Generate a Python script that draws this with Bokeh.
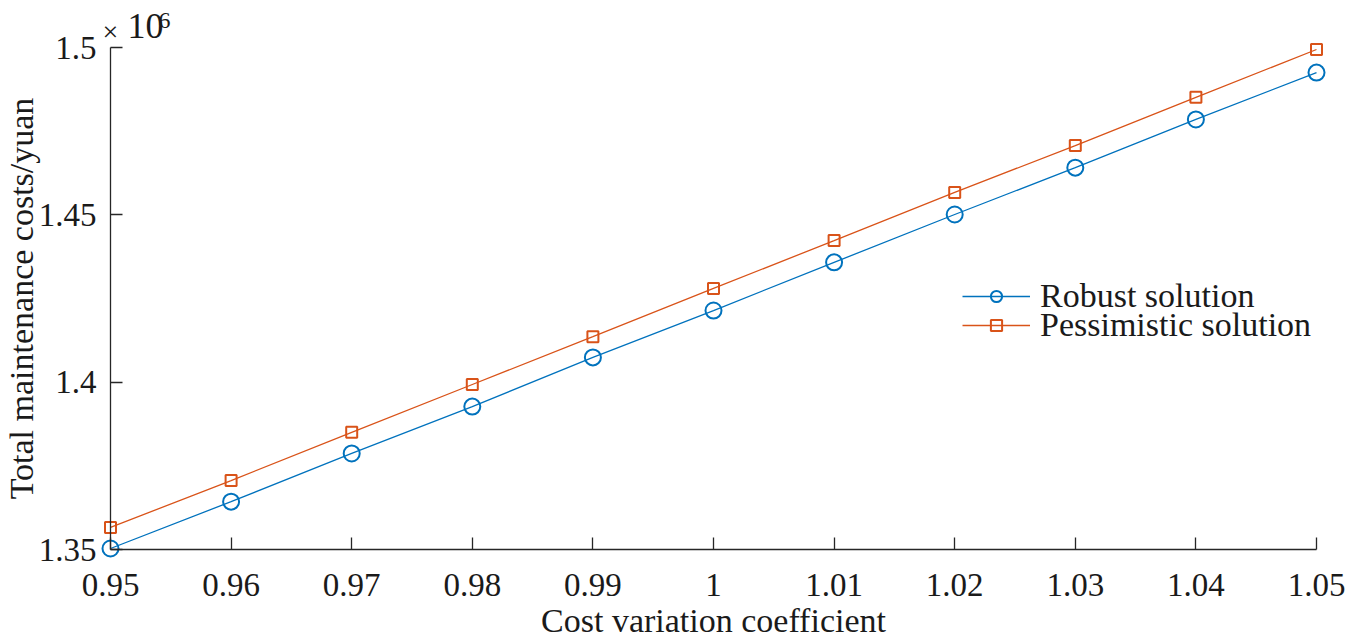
from bokeh.plotting import figure
from bokeh.models import FixedTicker, Legend, LegendItem, Label, Range1d
from bokeh.embed import file_html
from bokeh.resources import INLINE

coef = [0.95, 0.96, 0.97, 0.98, 0.99, 1.00, 1.01, 1.02, 1.03, 1.04, 1.05]
robust = [1350300, 1364300, 1378700, 1392700, 1407400, 1421400, 1435800, 1450100, 1464100, 1478500, 1492500]
pessimistic = [1356600, 1370600, 1385000, 1399300, 1413600, 1428000, 1442300, 1456700, 1470700, 1485100, 1499400]
x_ticks = [0.95, 0.96, 0.97, 0.98, 0.99, 1.00, 1.01, 1.02, 1.03, 1.04, 1.05]
x_tick_labels = ["0.95", "0.96", "0.97", "0.98", "0.99", "1", "1.01", "1.02", "1.03", "1.04", "1.05"]
y_ticks = [1350000, 1400000, 1450000, 1500000]
y_tick_labels = ["1.35", "1.4", "1.45", "1.5"]
series_names = ["Robust solution", "Pessimistic solution"]
x_lim = (0.95, 1.05)
y_lim = (1350000, 1500000)

FONT = "Liberation Serif"
BLUE = "#0072BD"
ORANGE = "#D95319"
AX = "#262626"
TXT = "#1a1a1a"

W, H = 1358, 639
# axes box in canvas pixels (left, right, top, bottom)
BL, BR, BT, BB = 110, 1316, 47, 549
xs = (x_lim[1] - x_lim[0]) / (BR - BL)
ys = (y_lim[1] - y_lim[0]) / (BB - BT)
x_range = Range1d(x_lim[0] - BL * xs, x_lim[1] + (W - BR) * xs)
y_range = Range1d(y_lim[0] - (H - BB) * ys, y_lim[1] + BT * ys)

p = figure(width=W, height=H, output_backend="svg", toolbar_location=None,
           x_range=x_range, y_range=y_range,
           min_border_left=0, min_border_right=0, min_border_top=0, min_border_bottom=0)
p.outline_line_color = None
p.grid.visible = False
p.background_fill_color = "white"

r1 = p.line(coef, robust, color=BLUE, line_width=1.3)
s1 = p.scatter(coef, robust, marker="circle", size=16, fill_color=None, line_color=BLUE, line_width=2)
r2 = p.line(coef, pessimistic, color=ORANGE, line_width=1.3)
s2 = p.scatter(coef, pessimistic, marker="square", size=11, fill_color=None, line_color=ORANGE, line_width=2)

for ax in (p.xaxis, p.yaxis):
    ax.axis_line_color = AX
    ax.axis_line_width = 1.3
    ax.major_tick_line_color = AX
    ax.major_tick_line_width = 1.3
    ax.major_tick_in = 12
    ax.major_tick_out = 0
    ax.minor_tick_line_color = None
    ax.major_label_text_font = FONT
    ax.major_label_text_font_size = "33px"
    ax.major_label_text_color = TXT
    ax.axis_label_text_font = FONT
    ax.axis_label_text_font_size = "34px"
    ax.axis_label_text_font_style = "normal"
    ax.axis_label_text_color = TXT

p.xaxis.fixed_location = y_lim[0]
p.xaxis.bounds = x_lim
p.xaxis.ticker = FixedTicker(ticks=x_ticks)
p.xaxis.major_label_overrides = {t: l for t, l in zip(x_ticks, x_tick_labels)}
p.xaxis.axis_label = "Cost variation coefficient"
p.xaxis.major_label_standoff = 24
p.xaxis.axis_label_standoff = 3

p.yaxis.fixed_location = x_lim[0]
p.yaxis.bounds = y_lim
p.yaxis.ticker = FixedTicker(ticks=y_ticks)
p.yaxis.major_label_overrides = {t: l for t, l in zip(y_ticks, y_tick_labels)}
p.yaxis.axis_label = "Total maintenance costs/yuan"
p.yaxis.major_label_standoff = 14
p.yaxis.axis_label_standoff = -4

p.add_layout(Label(x=x_lim[0], y=y_lim[1], x_offset=-8, y_offset=16, text="×", text_font=FONT,
                   text_font_size="28px", text_color=TXT, text_baseline="alphabetic"))
p.add_layout(Label(x=x_lim[0], y=y_lim[1], x_offset=17, y_offset=22, text="10", text_font=FONT,
                   text_font_size="36px", text_color=TXT, text_baseline="alphabetic"))
p.add_layout(Label(x=x_lim[0], y=y_lim[1], x_offset=48, y_offset=27, text="6", text_font=FONT,
                   text_font_size="24px", text_color=TXT, text_baseline="alphabetic"))

for renderers, name, loc in (([r1, s1], series_names[0], (962, 324)),
                             ([r2, s2], series_names[1], (962, 295))):
    lg = Legend(items=[LegendItem(label=name, renderers=renderers)], location=loc)
    lg.border_line_color = None
    lg.background_fill_alpha = 0
    lg.label_text_font = FONT
    lg.label_text_font_size = "34px"
    lg.label_text_color = TXT
    lg.glyph_width = 68
    lg.glyph_height = 28
    lg.label_height = 28
    lg.padding = 0
    lg.margin = 0
    lg.label_standoff = 10
    p.add_layout(lg, "center")

open("out.html", "w").write(file_html(p, INLINE))
